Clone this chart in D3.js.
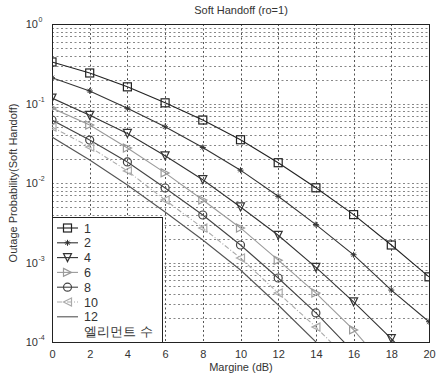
<!DOCTYPE html>
<html><head><meta charset="utf-8">
<script src="https://cdn.jsdelivr.net/npm/d3@7"></script>
<style>body{margin:0;background:#fff}svg{display:block}text{font-family:"Liberation Sans",Arial,sans-serif;fill:#333}</style>
</head><body><svg id="c" width="436" height="379"></svg>
<script>
const margins = [0,2,4,6,8,10,12,14,16,18,20];
const xTicks = [0,2,4,6,8,10,12,14,16,18,20];
const yTickExps = [0,-1,-2,-3,-4];
const seriesNames = ["1","2","4","6","8","10","12"];
const s1 = [0.333,0.242,0.162,0.102,0.062,0.035,0.018,0.0087,0.004,0.00166,0.00066];
const s2 = [0.211,0.144,0.087,0.051,0.028,0.0145,0.0068,0.0030,0.00125,0.00045,0.00018];
const s4 = [0.117,0.071,0.042,0.022,0.011,0.005,0.0022,0.00087,0.00032,0.00011,0.000035];
const s6 = [0.0877,0.0537,0.0275,0.0134,0.00611,0.00272,0.00107,0.000413,0.000142,0.00004];
const s8 = [0.062,0.0347,0.0184,0.00865,0.00396,0.00166,0.000638,0.000232,0.0000749];
const s10 = [0.0506,0.0284,0.0142,0.00611,0.00272,0.00114,0.000413,0.000154,0.0000514];
const s12 = [0.0379,0.0195,0.00944,0.00432,0.00192,0.000805,0.000292,0.0001,0.0000333];
const titleText = "Soft Handoff (ro=1)";
const xLabel = "Margine (dB)";
const yLabel = "Outage Probability(Soft Handoff)";
const legendTitle = "엘리먼트 수";

const series = [
  {name:"1", vals:s1, marker:"square", color:"#222", dash:null},
  {name:"2", vals:s2, marker:"star", color:"#333", dash:null},
  {name:"4", vals:s4, marker:"tridown", color:"#333", dash:null},
  {name:"6", vals:s6, marker:"triright", color:"#9a9a9a", dash:null},
  {name:"8", vals:s8, marker:"circle", color:"#444", dash:null},
  {name:"10", vals:s10, marker:"trileft", color:"#aaa", dash:"5,2,1,2"},
  {name:"12", vals:s12, marker:null, color:"#555", dash:null}
];

const L=52,R=429,T=24,B=342;
const svg=d3.select("#c");
const x=d3.scaleLinear().domain([0,20]).range([L,R]);
const y=d3.scaleLog().domain([1e-4,1]).range([B,T]);

svg.append("defs").append("clipPath").attr("id","clip").append("rect")
  .attr("x",L).attr("y",T).attr("width",R-L).attr("height",B-T);

// grid
const g=svg.append("g").attr("stroke","#555").attr("stroke-width",1).attr("stroke-dasharray","2,2.5");
const minor=[];
for(let e=-4;e<0;e++){for(let m=1;m<10;m++){minor.push(m*Math.pow(10,e));}}
minor.forEach(v=>{ if(v>1e-4) g.append("line").attr("x1",L).attr("x2",R).attr("y1",Math.round(y(v))+0.5).attr("y2",Math.round(y(v))+0.5).attr("stroke-opacity",0.7);});
xTicks.forEach(t=>{ if(t>0&&t<20) g.append("line").attr("y1",T).attr("y2",B).attr("x1",Math.round(x(t))+0.5).attr("x2",Math.round(x(t))+0.5);});

// axes box
svg.append("rect").attr("x",L+0.5).attr("y",T+0.5).attr("width",R-L).attr("height",B-T).attr("fill","none").attr("stroke","#222");

// x tick labels
const xa=d3.axisBottom(x).tickValues(xTicks).tickSize(0).tickPadding(8);
const xg=svg.append("g").attr("transform",`translate(0,${B})`).call(xa);
xg.select(".domain").remove();
xg.selectAll("text").attr("font-size",11).attr("fill","#444").attr("font-family","Liberation Sans, Arial");

// y tick labels
yTickExps.forEach(e=>{
  svg.append("text").attr("x",38).attr("y",y(Math.pow(10,e))+4).attr("text-anchor","end").attr("font-size",11).attr("fill","#444").text("10");
  svg.append("text").attr("x",38.5).attr("y",y(Math.pow(10,e))-2).attr("font-size",7).attr("fill","#444").text(String(e));
});

// lines
const plot=svg.append("g").attr("clip-path","url(#clip)");
const line=d3.line().x((d,i)=>x(margins[i])).y(d=>y(d));
function drawMarker(sel,type,cx,cy,color){
  const s=4;
  if(type==="square") sel.append("rect").attr("x",cx-s).attr("y",cy-s).attr("width",2*s).attr("height",2*s).attr("fill","none").attr("stroke",color).attr("stroke-width",1.2);
  else if(type==="circle") sel.append("circle").attr("cx",cx).attr("cy",cy).attr("r",s).attr("fill","none").attr("stroke",color).attr("stroke-width",1.2);
  else if(type==="tridown") sel.append("path").attr("d",`M${cx-s},${cy-s}L${cx+s},${cy-s}L${cx},${cy+s}Z`).attr("fill","none").attr("stroke",color).attr("stroke-width",1.2);
  else if(type==="triright") sel.append("path").attr("d",`M${cx-s},${cy-s}L${cx+s},${cy}L${cx-s},${cy+s}Z`).attr("fill","none").attr("stroke",color).attr("stroke-width",1.2);
  else if(type==="trileft") sel.append("path").attr("d",`M${cx+s},${cy-s}L${cx-s},${cy}L${cx+s},${cy+s}Z`).attr("fill","none").attr("stroke",color).attr("stroke-width",1.2);
  else if(type==="star"){
    const a=3;
    sel.append("path").attr("d",`M${cx-a},${cy}L${cx+a},${cy}M${cx},${cy-a}L${cx},${cy+a}M${cx-a*0.7},${cy-a*0.7}L${cx+a*0.7},${cy+a*0.7}M${cx-a*0.7},${cy+a*0.7}L${cx+a*0.7},${cy-a*0.7}`).attr("stroke",color).attr("stroke-width",1);
  }
}
series.forEach(s=>{
  plot.append("path").datum(s.vals).attr("d",line).attr("fill","none").attr("stroke",s.color).attr("stroke-width",1.1).attr("stroke-dasharray",s.dash);
  if(s.marker) s.vals.forEach((v,i)=>{ if(v>=1e-4) drawMarker(plot,s.marker,x(margins[i]),y(v),s.color);});
});

// legend
const lg=svg.append("g");
lg.append("rect").attr("x",L+0.5).attr("y",217.5).attr("width",110).attr("height",B-217).attr("fill","#fff").attr("stroke","#222");
series.forEach((s,i)=>{
  const yy=228+i*14.8;
  lg.append("line").attr("x1",57).attr("x2",78).attr("y1",yy).attr("y2",yy).attr("stroke",s.color).attr("stroke-width",1.1).attr("stroke-dasharray",s.dash);
  if(s.marker) drawMarker(lg,s.marker,67.5,yy,s.color);
  lg.append("text").attr("x",84).attr("y",yy+4.5).attr("font-size",12.5).attr("fill","#333").text(s.name);
});
lg.append("text").attr("x",84).attr("y",336).attr("font-size",13).attr("fill","#333").attr("font-family","Noto Sans CJK KR").text(legendTitle);

// titles
svg.append("text").attr("x",241).attr("y",14).attr("text-anchor","middle").attr("font-size",11).text(titleText);
svg.append("text").attr("x",241).attr("y",371).attr("text-anchor","middle").attr("font-size",11).text(xLabel);
svg.append("text").attr("transform",`translate(17,${(T+B)/2}) rotate(-90)`).attr("text-anchor","middle").attr("font-size",11).text(yLabel);
</script></body></html>
